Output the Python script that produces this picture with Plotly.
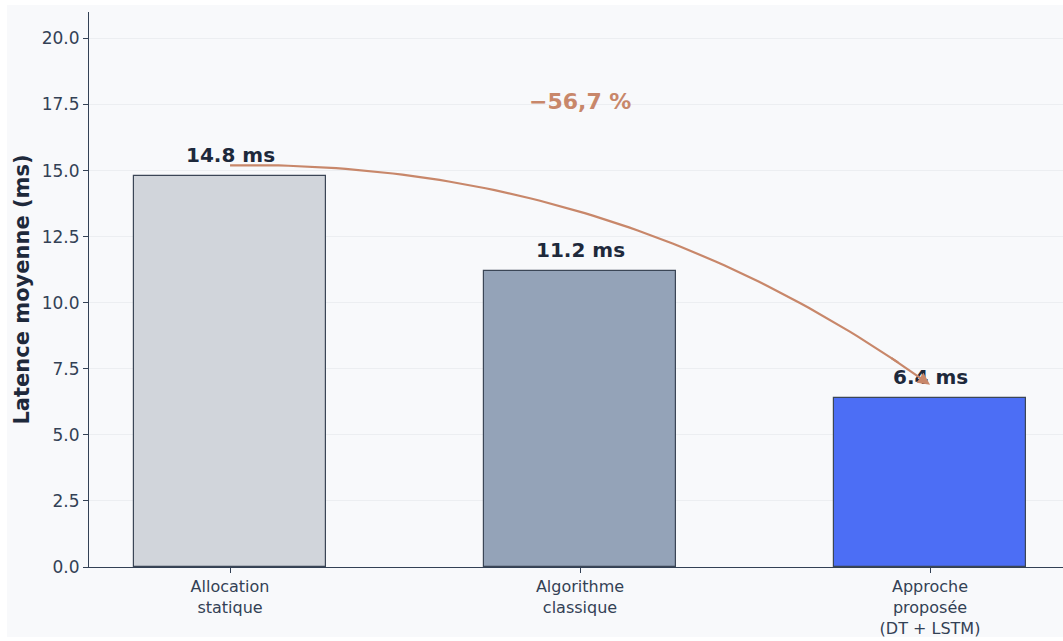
import numpy as np
import plotly.graph_objects as go

# --- data -------------------------------------------------------------
categories = ["Allocation<br>statique", "Algorithme<br>classique", "Approche<br>proposée<br>(DT + LSTM)"]
latency_ms = [14.8, 11.2, 6.4]
bar_colors = ["#d1d5db", "#94a3b8", "#4c6ef5"]
reduction_label = "\u221256,7 %"
y_ticks = [0.0, 2.5, 5.0, 7.5, 10.0, 12.5, 15.0, 17.5, 20.0]

# --- layout geometry ----------------------------------------------------
W, H = 1063, 641
M_L, M_R, M_T, M_B = 89, 0, 12, 74
X_RANGE = [-0.403, 2.38]
Y_RANGE = [0, 21]
plot_w = W - M_L - M_R
plot_h = H - M_T - M_B
sx = plot_w / (X_RANGE[1] - X_RANGE[0])
sy = plot_h / (Y_RANGE[1] - Y_RANGE[0])

TEXT_DARK = "#1e293b"
TICK_COL = "#334155"
ACCENT = "#c8876a"
FONT = "DejaVu Sans"

xpos = list(range(len(categories)))

fig = go.Figure()
fig.add_trace(go.Bar(
    x=xpos, y=latency_ms, width=0.55,
    marker=dict(color=bar_colors, line=dict(color="#3b4656", width=1.2)),
    hoverinfo="skip", showlegend=False,
))

# value labels above each bar
for xi, v in zip(xpos, latency_ms):
    fig.add_annotation(x=xi, y=v, text=f"<b>{v:.1f} ms</b>", showarrow=False,
                       yanchor="bottom", yshift=7,
                       font=dict(family=FONT, size=20, color=TEXT_DARK))

# curved arrow from the first bar to the proposed approach (arc3-like bezier)
p0 = np.array([xpos[0] * sx, (latency_ms[0] + 0.4) * sy])
p2 = np.array([xpos[-1] * sx, (latency_ms[-1] + 0.5) * sy])
rad = -0.165
mid = (p0 + p2) / 2
d = p2 - p0
ctrl = np.array([mid[0] + rad * d[1], mid[1] - rad * d[0]])
t = np.linspace(0, 1, 80)[:, None]
curve = (1 - t) ** 2 * p0 + 2 * (1 - t) * t * ctrl + t ** 2 * p2
cx, cy = curve[:, 0] / sx, curve[:, 1] / sy
fig.add_trace(go.Scatter(x=cx[:-4], y=cy[:-4], mode="lines",
                         line=dict(color=ACCENT, width=2.2),
                         hoverinfo="skip", showlegend=False))
fig.add_annotation(x=cx[-1], y=cy[-1], ax=cx[-6], ay=cy[-6],
                   xref="x", yref="y", axref="x", ayref="y",
                   showarrow=True, arrowhead=2, arrowsize=1.1, arrowwidth=2.2,
                   arrowcolor=ACCENT, text="")

fig.add_annotation(x=1, y=17.6, text=f"<b>{reduction_label}</b>", showarrow=False,
                   font=dict(family=FONT, size=22, color=ACCENT))

# light figure panel with a thin white border around it
fig.add_shape(type="rect", xref="paper", yref="paper", layer="below",
              x0=(7 - M_L) / plot_w, x1=(W - M_L) / plot_w,
              y0=-(H - 4 - M_T - plot_h) / plot_h, y1=1 + (M_T - 5) / plot_h,
              fillcolor="#f8f9fb", line=dict(width=0))

fig.update_layout(
    width=W, height=H,
    margin=dict(l=M_L, r=M_R, t=M_T, b=M_B),
    paper_bgcolor="white", plot_bgcolor="rgba(0,0,0,0)",
    font=dict(family=FONT, size=16, color=TICK_COL),
    bargap=0,
)
fig.update_xaxes(
    range=X_RANGE, tickmode="array", tickvals=xpos, ticktext=categories,
    showgrid=False, zeroline=False,
    showline=True, linecolor=TICK_COL, linewidth=1.2,
    ticks="outside", ticklen=5, tickcolor=TICK_COL,
    tickfont=dict(family=FONT, size=16, color=TICK_COL),
)
fig.update_yaxes(
    range=Y_RANGE, tickmode="array", tickvals=y_ticks,
    ticktext=[f"{v:.1f}" for v in y_ticks],
    showgrid=True, gridcolor="#eceef1", gridwidth=1, zeroline=False,
    showline=True, linecolor=TICK_COL, linewidth=1.2,
    ticks="outside", ticklen=5, tickcolor=TICK_COL,
    tickfont=dict(family=FONT, size=17, color=TICK_COL),
    title=dict(text="<b>Latence moyenne (ms)</b>", standoff=6,
               font=dict(family=FONT, size=21, color=TEXT_DARK)),
)

fig.write_html("out.html")
